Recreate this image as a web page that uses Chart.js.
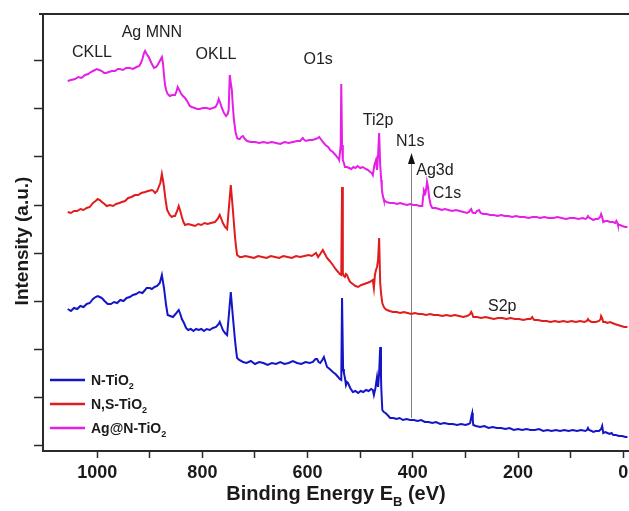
<!DOCTYPE html>
<html lang="en">
<head>
  <meta charset="UTF-8">
  <title>XPS survey spectra</title>
  <script src="https://cdn.jsdelivr.net/npm/chart.js@4"></script>
  <style>
    body { margin: 0; background: #fff; }
    canvas { display: block; }
  </style>
</head>
<body>
  <canvas id="xps" width="629" height="511"></canvas>

  <script>
    // [binding energy (eV), intensity (a.u.)]
    const nTiO2 = [
      [1056,136],[1050,134],[1044,137],[1038,136],[1032,139],[1026,138],[1020,141],[1014,142],[1008,146],[1003,148],
      [999,149],[995,148],[991,147],[986,144],[980,141],[974,141],[968,143],[962,142],[956,145],[950,144],
      [944,147],[938,148],[932,150],[926,151],[920,153],[914,152],[909,155],[906,157],[900,157],[896,156],
      [891,158],[886,159],[881,162],[877,170],[873,157],[869,140],[866,130],[861,129],[856,128],[851,131],
      [845,135],[842,131],[839,126],[835,122],[831,117],[827,115],[822,116],[817,114],[812,116],[807,115],
      [802,116],[797,114],[792,116],[786,115],[780,117],[774,118],[769,121],[767,123],[764,119],[761,115],
      [757,112],[753,110],[750,128],[746,153],[742,128],[738,105],[736,95],[734,87],[730,85],[726,84],
      [723,83],[716,82],[708,84],[700,81],[692,83],[684,82],[676,80],[668,82],[660,81],[652,83],
      [644,81],[636,82],[628,84],[620,82],[612,81],[604,83],[596,82],[590,83],[585,86],[582,86],
      [579,83],[576,82],[572,85],[569,88],[566,83],[563,78],[558,76],[552,73],[547,71],[542,68],
      [539,66],[536,65],[534.5,147],[532.5,76],[531,72],[529,67],[527,60],[525,63],[523,62],[519,57],
      [514,53],[509,54],[504,52],[499,54],[494,53],[489,55],[484,54],[479,56],[476,55],[474,50],
      [471,57],[468,68],[466,58],[464,72],[462,98],[460.5,70],[460,58],[458,35],[455,33],[452,32],
      [448,30],[443,27],[437,27],[431,26],[425,27],[419,25],[412,26],[405,25],[398,25],[391,24],
      [384,25],[377,23],[370,23],[363,22],[356,23],[348,21],[340,22],[332,21],[324,21],[316,20],
      [308,21],[300,20],[294,21],[291,22],[288,30],[287,32],[286,25],[285,20],[280,19],[272,18],
      [264,19],[256,17],[248,18],[240,17],[232,17],[224,16],[216,17],[208,15],[200,16],[192,15],
      [184,16],[176,15],[168,15],[160,16],[152,14],[144,15],[136,14],[128,15],[120,14],[112,15],
      [104,14],[96,15],[88,14],[80,15],[72,14],[69,15],[67,17],[65,15],[60,14],[57,13],
      [52,14],[46,14],[42,16],[40,19],[38,12],[34,13],[30,12],[26,11],[22,12],[19,10],
      [14,10],[8,9],[2,9],[-4,8],[-8,8]
    ];
    const nsTiO2 = [
      [1056,233],[1050,232],[1044,234],[1038,234],[1032,236],[1026,235],[1020,237],[1014,238],[1008,242],[1003,244],
      [999,246],[995,245],[991,243],[986,241],[982,239],[976,240],[970,239],[964,241],[958,242],[953,243],
      [947,244],[941,247],[935,248],[928,250],[922,250],[916,252],[909,253],[903,254],[896,255],[893,254],
      [890,252],[886,254],[883,258],[880,262],[877,271],[875,265],[873,258],[870,245],[867,235],[862,230],
      [858,228],[855,229],[852,229],[848,234],[845,239],[842,234],[839,228],[836,223],[833,220],[827,221],
      [820,220],[814,219],[808,221],[802,220],[796,222],[790,221],[784,222],[776,223],[771,226],[767,230],
      [764,226],[761,222],[757,218],[753,216],[750,235],[746,260],[742,235],[738,208],[736,198],[734,190],
      [729,188],[725,188],[718,189],[710,188],[702,187],[694,189],[686,188],[678,187],[670,189],[662,188],
      [654,187],[646,189],[638,188],[630,187],[622,189],[614,188],[606,189],[598,190],[592,189],[587,191],
      [584,192],[580,188],[576,191],[571,195],[567,191],[563,187],[558,184],[552,180],[547,176],[542,173],
      [539,171],[536,170],[534.5,258],[533,172],[531,169],[529,168],[527,171],[525,170],[522,166],[519,163],
      [514,161],[509,159],[504,158],[498,160],[492,161],[487,162],[482,163],[476,165],[474,157],[472,170],
      [470,175],[468,178],[466,185],[464,207],[462,162],[460,150],[458,142],[455,138],[452,136],[449,135],
      [444,134],[438,133],[431,133],[424,132],[417,133],[410,132],[403,131],[396,132],[389,131],[382,131],
      [375,130],[367,131],[360,130],[352,130],[344,129],[336,130],[328,129],[320,130],[312,129],[304,128],
      [297,129],[293,130],[291,131],[289,133],[287,131],[285,128],[278,128],[270,127],[262,128],[254,127],
      [246,126],[238,127],[230,127],[222,126],[214,127],[206,126],[198,126],[190,125],[182,126],[176,126],
      [173,128],[171,126],[169,125],[162,125],[154,124],[146,124],[138,123],[130,124],[122,123],[114,124],
      [106,123],[98,124],[90,123],[82,124],[74,123],[69,124],[67,126],[64,124],[60,123],[57,123],
      [52,123],[46,124],[43,126],[42,129],[40,127],[38,123],[34,123],[30,122],[25,123],[21,122],
      [16,121],[10,120],[4,119],[-2,118],[-8,118]
    ];
    const agNTiO2 = [
      [1056,364],[1050,365],[1042,366],[1036,368],[1030,367],[1023,370],[1017,371],[1012,373],[1008,374],[1004,375],
      [1001,376],[996,375],[991,374],[987,372],[983,372],[978,373],[972,374],[966,374],[961,376],[957,376],
      [951,375],[945,377],[938,377],[932,376],[925,378],[920,379],[917,382],[914,386],[911,392],[909,394],
      [906,391],[902,388],[897,382],[892,377],[888,378],[885,380],[881,384],[877,388],[875,382],[873,370],
      [871,360],[869,355],[866,351],[862,349],[857,350],[852,350],[849,354],[847,358],[844,355],[841,352],
      [837,349],[833,347],[828,343],[824,339],[820,338],[815,337],[810,336],[805,336],[799,337],[792,337],
      [786,336],[780,337],[775,338],[771,342],[769,346],[766,342],[763,337],[759,332],[755,329],[752,331],
      [750,335],[748,370],[746,362],[744,355],[742,338],[740,325],[737,313],[734,307],[731,306],[729,306],
      [726,308],[723,309],[719,306],[715,304],[708,303],[700,303],[692,302],[684,303],[676,302],[668,303],
      [660,302],[652,301],[644,303],[636,302],[628,303],[620,304],[614,304],[611,306],[609,307],[606,305],
      [603,304],[597,305],[591,305],[585,306],[580,307],[578,308],[575,306],[571,303],[566,300],[561,298],
      [557,295],[552,293],[547,290],[544,288],[542,287],[540,285],[537,300],[536,361],[534.5,300],[533,285],
      [531,282],[529,278],[525,278],[521,277],[517,276],[513,278],[509,277],[505,279],[500,277],[495,278],
      [489,276],[485,275],[481,273],[478,272],[476,270],[473,280],[470,285],[468,275],[466,290],[464,312],
      [462,280],[460,265],[459,258],[458,252],[456,247],[455,245],[450,243],[443,242],[436,242],[430,241],
      [424,242],[418,241],[411,240],[405,241],[399,240],[393,240],[387,239],[382,239],[380,250],[379,255],
      [376,252],[374,258],[373,263],[371,258],[369,248],[366,240],[363,237],[357,237],[350,236],[345,235],
      [339,236],[332,235],[325,234],[318,235],[311,234],[304,233],[297,232],[293,233],[291,235],[289,236],
      [287,233],[285,232],[281,232],[278,234],[274,235],[271,232],[266,231],[260,231],[253,230],[246,230],
      [239,229],[232,230],[225,229],[218,229],[211,228],[204,229],[196,228],[188,228],[180,227],[172,228],
      [165,228],[158,227],[150,228],[142,227],[133,227],[125,228],[117,227],[109,226],[101,227],[93,227],
      [85,226],[77,227],[72,226],[69,227],[67,229],[64,227],[60,226],[57,225],[53,226],[48,226],
      [44,228],[42,231],[40,228],[38,223],[34,224],[30,224],[25,223],[20,223],[15,222],[13,224],
      [11,222],[10,220],[6,220],[2,219],[-4,218],[-8,218]
    ];
    const seriesNames = ['N-TiO₂', 'N,S-TiO₂', 'Ag@N-TiO₂'];
    const seriesColors = ['#1515c8', '#e01c1c', '#e61fe6'];

    const xTicks = [0, 100, 200, 300, 400, 500, 600, 700, 800, 900, 1000];
    const yTicks = [0, 48, 96, 144, 192, 240, 288, 336, 384];

    // peak annotations: text, binding energy, intensity
    const peakText = ['CKLL', 'Ag MNN', 'OKLL', 'O1s', 'Ti2p', 'N1s', 'Ag3d', 'C1s', 'S2p'];
    const peakBE   = [1010, 896, 774, 580, 466, 405, 358, 335, 230];
    const peakI    = [392, 412, 390, 385, 324, 303, 274, 251, 138];
    // N1s marker arrow (binding energy, from, to)
    const arrowBE = 403, arrowFrom = 27, arrowTo = 292;

    const FONT = '"Liberation Sans", Arial, sans-serif';

    // draw text where "₂" and "_X" are rendered as subscripts
    function richText(ctx, text, x, y, size, weight, align) {
      const parts = [];
      for (let i = 0; i < text.length; i++) {
        if (text[i] === '₂') parts.push({ t: '2', sub: true });
        else if (text[i] === '_') { parts.push({ t: text[i + 1], sub: true }); i++; }
        else if (parts.length && !parts[parts.length - 1].sub) parts[parts.length - 1].t += text[i];
        else parts.push({ t: text[i], sub: false });
      }
      const subSize = Math.round(size * 0.65);
      let w = 0;
      parts.forEach(p => {
        ctx.font = weight + ' ' + (p.sub ? subSize : size) + 'px ' + FONT;
        p.w = ctx.measureText(p.t).width;
        w += p.w;
      });
      let cx = align === 'center' ? x - w / 2 : x;
      ctx.textAlign = 'left';
      ctx.textBaseline = 'alphabetic';
      parts.forEach(p => {
        ctx.font = weight + ' ' + (p.sub ? subSize : size) + 'px ' + FONT;
        ctx.fillText(p.t, cx, p.sub ? y + size * 0.3 : y);
        cx += p.w;
      });
    }

    const decor = {
      id: 'decor',
      beforeDatasetsDraw(chart) {
        const { ctx, scales: { x, y } } = chart;
        const ax = Math.round(x.getPixelForValue(arrowBE)) + 0.5;
        const y0 = y.getPixelForValue(arrowFrom), y1 = y.getPixelForValue(arrowTo);
        ctx.save();
        ctx.strokeStyle = '#808080';
        ctx.lineWidth = 1;
        ctx.beginPath(); ctx.moveTo(ax, y0); ctx.lineTo(ax, y1 + 8); ctx.stroke();
        ctx.fillStyle = '#111';
        ctx.beginPath();
        ctx.moveTo(ax, y1); ctx.lineTo(ax - 3.5, y1 + 11); ctx.lineTo(ax + 3.5, y1 + 11);
        ctx.closePath(); ctx.fill();
        ctx.restore();
      },
      afterDraw(chart) {
        const { ctx, chartArea: a, scales: { x, y } } = chart;
        ctx.save();
        // top frame line
        ctx.strokeStyle = '#2a2a2a';
        ctx.lineWidth = 2;
        ctx.beginPath(); ctx.moveTo(a.left - 4, a.top); ctx.lineTo(a.right, a.top); ctx.stroke();

        // peak labels
        ctx.fillStyle = '#222';
        ctx.font = '16px ' + FONT;
        ctx.textAlign = 'center';
        ctx.textBaseline = 'middle';
        peakText.forEach((t, i) => {
          ctx.fillText(t, x.getPixelForValue(peakBE[i]), y.getPixelForValue(peakI[i]));
        });

        // legend, lower left
        chart.data.datasets.forEach((ds, i) => {
          const ly = a.bottom - 71 + i * 24;
          ctx.strokeStyle = ds.borderColor;
          ctx.lineWidth = 2.5;
          ctx.beginPath(); ctx.moveTo(a.left + 7, ly); ctx.lineTo(a.left + 42, ly); ctx.stroke();
          ctx.fillStyle = '#1a1a1a';
          richText(ctx, ds.label, a.left + 48, ly + 5, 14, 'bold', 'left');
        });

        // axis titles
        ctx.fillStyle = '#1a1a1a';
        richText(ctx, 'Binding Energy E_B (eV)', (a.left + a.right) / 2, 500, 20, 'bold', 'center');
        ctx.translate(28, 241);
        ctx.rotate(-Math.PI / 2);
        richText(ctx, 'Intensity (a.u.)', 0, 0, 19, 'bold', 'center');
        ctx.restore();
      }
    };

    const toXY = arr => arr.map(p => ({ x: p[0], y: p[1] }));
    const lineSet = (data, i) => ({
      label: seriesNames[i],
      data: toXY(data),
      borderColor: seriesColors[i],
      backgroundColor: seriesColors[i],
      borderWidth: 2,
      pointRadius: 0,
      tension: 0,
      fill: false
    });

    new Chart(document.getElementById('xps'), {
      type: 'line',
      data: { datasets: [lineSet(nTiO2, 0), lineSet(nsTiO2, 1), lineSet(agNTiO2, 2)] },
      options: {
        responsive: false,
        animation: false,
        layout: { padding: { top: 14, right: 0, left: 0, bottom: 0 } },
        plugins: { legend: { display: false }, tooltip: { enabled: false } },
        scales: {
          x: {
            type: 'linear',
            reverse: true,
            min: -11,
            max: 1103,
            afterBuildTicks: s => { s.ticks = xTicks.map(v => ({ value: v })); },
            afterFit: s => { s.height = 60; },
            grid: { display: true, drawOnChartArea: false, tickLength: 7, tickWidth: 1.5, tickColor: '#2a2a2a' },
            border: { display: true, color: '#2a2a2a', width: 2 },
            ticks: {
              maxRotation: 0,
              autoSkip: false,
              padding: 4,
              color: '#1a1a1a',
              font: { family: FONT, size: 18, weight: 'bold' },
              callback: v => (v % 200 === 0 ? String(v) : '')
            }
          },
          y: {
            min: -6,
            max: 431,
            afterBuildTicks: s => { s.ticks = yTicks.map(v => ({ value: v })); },
            afterFit: s => { s.width = 43; },
            grid: { display: true, drawOnChartArea: false, tickLength: 9, tickWidth: 1.5, tickColor: '#2a2a2a' },
            border: { display: true, color: '#2a2a2a', width: 2 },
            ticks: { callback: () => '' }
          }
        }
      },
      plugins: [decor]
    });
  </script>
</body>
</html>
